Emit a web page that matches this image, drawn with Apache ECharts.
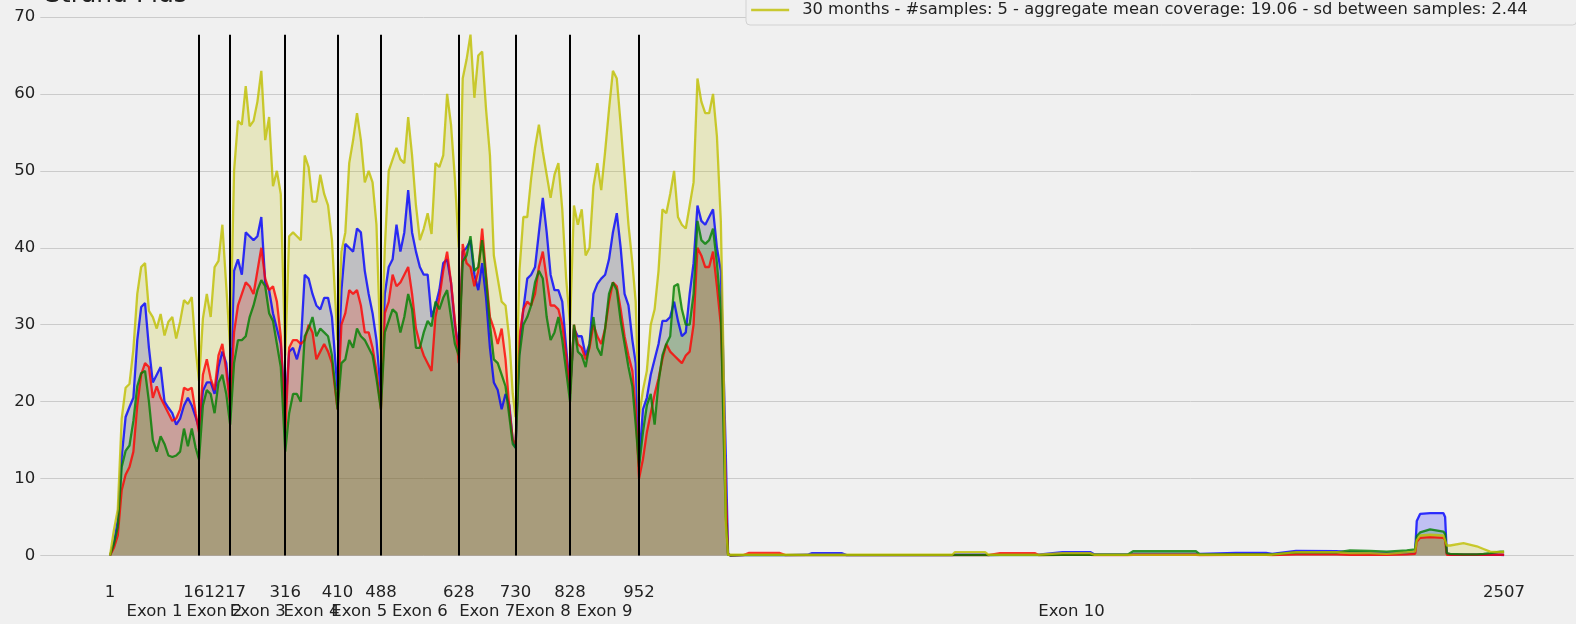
<!DOCTYPE html>
<html>
<head>
<meta charset="utf-8">
<script src="https://cdn.jsdelivr.net/npm/echarts@6/dist/echarts.min.js"></script>
<style>
  html,body{margin:0;padding:0;background:#f0f0f0}
  #chart{width:1576px;height:624px}
</style>
</head>
<body>
<div id="chart"></div>
<script>
// 外显子边界 / 名称
const boundaries = [1,161,217,316,410,488,628,730,828,952,2507]
const exonNames = ['Exon 1','Exon 2','Exon 3','Exon 4','Exon 5','Exon 6','Exon 7','Exon 8','Exon 9','Exon 10']

// 采样位置(按外显子分段)
const pos = [
  1,8,15,22,29,36,43,50,57,64,71,78,85,92,99,106,113,120,127,134,141,148,155,161,
  168,175,182,189,196,203,210,217,
  224,231,238,245,252,259,266,273,280,287,294,301,308,316,
  323,330,337,344,351,358,365,372,379,386,393,400,410,
  417,424,431,438,445,452,459,466,473,480,488,
  495,502,509,516,523,530,537,544,551,558,565,572,579,586,593,600,607,614,621,628,
  635,642,649,656,663,670,677,684,691,698,705,712,719,725,730,
  737,744,751,758,765,772,779,786,793,800,807,814,821,828,
  835,842,849,856,863,870,877,884,891,898,905,912,919,926,933,940,946,952,
  959,966,973,980,987,994,1001,1008,1015,1022,1029,1036,1043,1050,1057,1064,1071,1078,1085,1092,1099,1104,1108,1112,
  1116,1140,1150,1204,1215,1255,1263,1317,1325,1400,1480,1515,1520,1574,1580,1601,1664,1670,1713,1763,1770,1830,1840,1953,
  1960,2025,2079,2090,2133,2206,2230,2266,2296,2332,2347,2350,2356,2374,2398,2401,2404,2410,2434,2458,2470,2482,2500,2507
]

const blue = [
  0,1.5,4.6,12.8,18,19.3,20.5,28,32.3,32.8,27,22.5,23.5,24.5,20,19.2,18.5,17,17.8,19.5,20.5,19.5,18,16.5,
  21.4,22.5,22.5,21,24.5,26.5,25,20,
  37,38.5,36.5,42,41.5,41,41.5,44,35.5,34.5,31.5,29.5,27.5,19,
  26.5,27,25.5,27.5,36.5,36,34,32.5,32,33.5,33.5,31,21.5,
  34.5,40.5,40,39.5,42.5,42,37,34,31.5,28,21,
  34,37.5,38.5,43,39.5,42,47.5,42,39.5,37.5,36.5,36.5,31,32.5,34.5,38,38.5,35.5,30,27,
  39.5,40,41,36.5,34.5,38,33.5,27,22.5,21.5,19,21,19.5,15,14,
  27.5,32,36,36.5,37.5,42,46.5,42,36.5,34.5,34.5,33,27,21.5,
  29.5,28.5,28.5,26,27.5,34,35.3,36,36.5,38.5,42,44.5,40,34,32.5,28,25,12,
  19,20.5,23.5,25.5,27.5,30.5,30.5,31,33,30.5,28.5,29,34,38,45.5,43.5,43,44,45,40,37,24,13,0.3,
  0,0.05,0.05,0.05,0.05,0.1,0.3,0.3,0.05,0.05,0.05,0.05,0.1,0.1,0.05,0.1,0.1,0.1,0.45,0.45,0.15,0.15,0.2,0.2,
  0.2,0.35,0.35,0.2,0.6,0.55,0.4,0.3,0.3,0.3,0.4,4.5,5.4,5.5,5.5,5.0,0.3,0.1,0.1,0.1,0.1,0.1,0.1,0.05
]

const red = [
  0,1,2.6,8.5,10.5,11.5,13.5,19.5,23.5,25,24.5,20.5,22,20.5,19.5,18.5,17.5,17.8,19,21.8,21.5,21.8,18.5,16,
  23.5,25.5,23,21.5,26,27.5,24,19.5,
  29,32.5,34,35.5,35,34,37,40,36,34.5,35,33,28.5,16,
  27,28,28,27.5,28,30,29,25.5,26.5,27.5,26.5,25,19,
  30,31.5,34.5,34,34.5,32.5,29,29,27,24,19,
  31.5,33,36.5,35,35.5,36.5,37.5,34,29.5,27.5,26,25,24,31,33.5,37,39.5,35.5,30.5,25,
  40.5,38,37.5,35,37,42.5,36.5,31,29.5,27.5,29.5,25.5,19,15,14.5,
  28.5,32,33,32.5,34,37.5,39.5,36,32.5,32.5,32,30,26,21,
  30,27.5,27,25.5,27,30,28.5,27.5,29.5,33,35.5,35,32,28.5,26,24,19,10,
  12.5,16,18.5,21,23,25.5,27.5,26.5,26,25.5,25,26,26.5,30,40,39,37.5,37.5,39.5,35,30,20,8,0.2,
  0,0.05,0.35,0.35,0.05,0.05,0.05,0.05,0.05,0.05,0.05,0.05,0.05,0.05,0.05,0.3,0.3,0.05,0.1,0.1,0.05,0.05,0.1,0.1,
  0.05,0.1,0.1,0.05,0.15,0.15,0.1,0.1,0.1,0.15,0.2,1.8,2.3,2.4,2.3,2.0,0.1,0.1,0.1,0.1,0.1,0.1,0.1,0.1
]

const green = [
  0,1.5,3.7,11.5,13.6,14.3,17.5,22,23.7,24,20,15,13.5,15.5,14.5,13,12.8,13,13.5,16.5,14.2,16.5,14,12.5,
  19.5,21.5,21,18.5,22.5,23.5,21,17,
  25,28,28,28.5,31,32.5,34.5,35.8,35,31.5,30.5,27.5,24.5,13.5,
  18.5,21,21,20,28.5,29.5,31,28.5,29.5,29,28.5,26,19,
  25,25.5,28,27,29.5,28.5,28,27,26,23,19,
  29,30.5,32,31.5,29,31,34,32,27,27,29,30.5,29.8,33,32,33.5,34.5,31,27.5,26,
  38.2,39,41.5,37,37.5,41,36,30,25.5,25,23.5,22,18,14.5,14,
  26,30,31,32.5,35.5,37,36,31,28,29,31,28,24,20,
  30,26.5,26,24.5,27.5,31,27,26,29.5,34,35.5,34.5,30.5,27.5,24.5,22,17,11.5,
  16,19.5,21,17,22.5,26,27.5,28.5,35,35.3,32,30,30,34,43.5,41,40.5,41,42.5,38,32,16,5,0.1,
  0,0.05,0.05,0.05,0.05,0.05,0.05,0.05,0.05,0.05,0.05,0.05,0.05,0.05,0.05,0.05,0.05,0.05,0.1,0.1,0.1,0.1,0.55,0.55,
  0.15,0.15,0.15,0.15,0.4,0.4,0.65,0.6,0.5,0.65,0.8,2.5,3.0,3.4,3.1,2.8,0.3,0.2,0.15,0.15,0.2,0.3,0.5,0.5
]

const yellow = [
  0,3.3,6,17.8,21.8,22.3,26.8,34,37.5,38,31.8,31,29.5,31.4,28.6,30.4,31,28.2,30.4,33.2,32.7,33.6,26.8,22.7,
  30.8,34,31,37.5,38.3,43,35,27,
  50,56.5,56,61,55.8,56.5,59,63,54,57,48,50,47,26,
  41.5,42,41.5,41,52,50.5,46,46,49.5,47,45.5,41,28,
  39.5,42,51,54,57.5,54,48.5,50,48.5,43,25,
  40,50,51.5,53,51.5,51,57,52,45.5,41,42.5,44.5,41.8,51,50.5,52,60,56,49,40,
  62,64.5,67.7,59.5,65,65.5,58,52,39,36,33,32.5,28,21,18,
  37,44,44,49,53,56,52.5,49.5,46.5,49.5,51,45,36,30,
  45.5,43,45,39,40,48,51,47.5,52.5,58,63,62,56,49.5,43,38,33,18,
  21.5,24,30,32,37,45,44.5,47,50,44,43,42.5,45.5,48.5,62,59,57.5,57.5,60,54.5,43.5,25,4,0.1,
  0.1,0.1,0.1,0.1,0.1,0.1,0.1,0.1,0.1,0.1,0.1,0.1,0.45,0.45,0.1,0.1,0.1,0.1,0.3,0.3,0.1,0.1,0.1,0.1,
  0.1,0.1,0.1,0.1,0.45,0.45,0.3,0.3,0.2,0.4,0.5,2.0,2.6,2.7,2.6,2.4,1.3,1.3,1.6,1.2,0.85,0.5,0.45,0.5
]

const yTicks = [0,10,20,30,40,50,60,70]
const legendName = '30 months - #samples: 5 - aggregate mean coverage: 19.06 - sd between samples: 2.44'

const FONT = 'DejaVu Sans'
const TXT = '#222'
const exonMids = exonNames.map((_, i) => (boundaries[i] + boundaries[i+1]) / 2)
const lineTop = Math.max(...blue, ...red, ...green, ...yellow)

function mk(name, color, vals){
  return {
    name, type:'line', symbol:'none', silent:true,
    data: pos.map((x, i) => [x, vals[i]]),
    lineStyle:{color, width:2.3, opacity:0.8},
    itemStyle:{color},
    areaStyle:{color, opacity:0.2}
  }
}

const series = [
  mk('group b', '#0000ff', blue),
  mk('group r', '#ff0000', red),
  mk('group g', '#008000', green),
  mk(legendName, '#bfbf00', yellow),
  { // 外显子分界竖线
    type:'line', data:[], silent:true,
    markLine:{
      symbol:'none', silent:true, animation:false,
      label:{show:false},
      lineStyle:{color:'#000', width:2, type:'solid', opacity:1},
      emphasis:{disabled:true},
      data: boundaries.slice(1, -1).map(b => [{coord:[b, 0]}, {coord:[b, lineTop]}])
    }
  }
]

const xBase = {
  type:'value', min:-124.3, max:2632.3, position:'bottom',
  axisLine:{show:false}, axisTick:{show:false}, splitLine:{show:false}
}

const chart = echarts.init(document.getElementById('chart'))
chart.setOption({
  animation:false,
  backgroundColor:'#f0f0f0',
  title:{
    text:'Strand Plus', left:40, top:-22,
    textStyle:{fontFamily:FONT, fontSize:25, fontWeight:'normal', color:TXT}
  },
  legend:{
    data:[legendName], left:746, top:-12, orient:'vertical',
    padding:[14, 49, 7, 4], itemWidth:38, itemHeight:14,
    backgroundColor:'#f0f0f0', borderColor:'#d2d2d2', borderWidth:1, borderRadius:4,
    itemStyle:{opacity:0},
    lineStyle:{width:2.3},
    textStyle:{fontFamily:FONT, fontSize:16.3, color:TXT, padding:[0,0,0,8]}
  },
  grid:{left:40.3, right:2.2, top:17, bottom:68.5, containLabel:false},
  xAxis:[
    Object.assign({}, xBase, {
      axisLabel:{customValues:boundaries, formatter:v => String(v), margin:29,
        fontFamily:FONT, fontSize:16.5, color:TXT}
    }),
    Object.assign({}, xBase, {
      axisLabel:{customValues:exonMids, formatter:v => exonNames[exonMids.indexOf(v)], margin:48,
        fontFamily:FONT, fontSize:16.5, color:TXT}
    })
  ],
  yAxis:{
    type:'value', min:yTicks[0], max:yTicks[yTicks.length-1], interval:10,
    axisLine:{show:false}, axisTick:{show:false},
    splitLine:{lineStyle:{color:'#cbcbcb', width:1}},
    axisLabel:{margin:5, fontFamily:FONT, fontSize:16.5, color:TXT}
  },
  series
})
</script>
</body>
</html>
